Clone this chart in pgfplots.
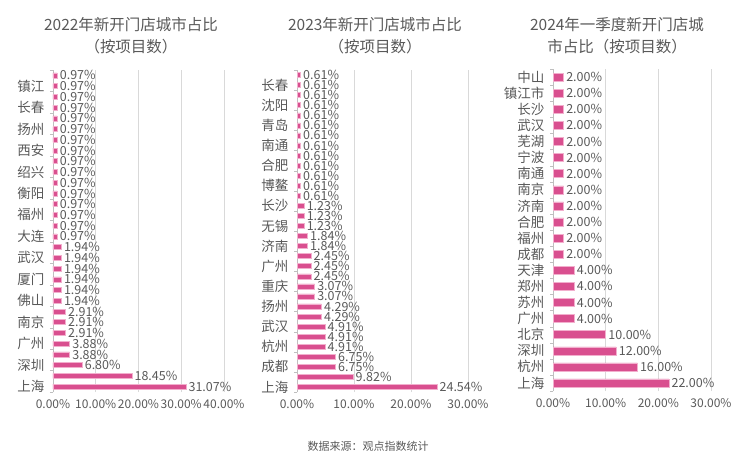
\documentclass[border=0pt]{standalone}
\usepackage{fontspec}
\setmainfont{Noto Sans CJK SC}
\usepackage{pgfplots}
\pgfplotsset{compat=1.18}

\definecolor{barpink}{RGB}{217,79,143}
\definecolor{baredge}{RGB}{242,175,205}
\definecolor{txt}{RGB}{89,89,89}
\definecolor{gridc}{RGB}{217,217,217}
\definecolor{axisc}{RGB}{191,191,191}

\pgfplotsset{
  citybar/.style={
    xbar, bar shift=0pt, scale only axis, anchor=south west,
    xmin=0, clip=false,
    axis x line=bottom, axis y line=left, axis line style={-},
    x axis line style={draw=none},
    y axis line style={draw=axisc, line width=0.8pt},
    xmajorgrids, grid style={gridc, line width=0.8pt},
    major tick length=0pt, minor tick length=3pt, tick align=outside,
    minor tick style={axisc},
    xticklabel={\pgfmathprintnumber[fixed,fixed zerofill,precision=2,assume math mode=true]{\tick}\%},
    x tick label style={font=\fontsize{12}{13}\selectfont, text=txt, yshift=-4pt},
    y tick label style={font=\fontsize{13.5}{14}\selectfont, text=txt, xshift=-5pt},
    point meta=x,
    nodes near coords={\pgfmathprintnumber[fixed,fixed zerofill,precision=2,assume math mode=true]{\pgfplotspointmeta}\%},
    every node near coord/.append style={font=\fontsize{12.5}{13}\selectfont, text=txt, anchor=west, inner sep=2.5pt},
  },
  pinkbar/.style={fill=barpink, draw=baredge, line width=0.5pt},
}

\begin{document}
\begin{tikzpicture}[x=1pt,y=1pt]
\path[use as bounding box] (0,0) rectangle (740,456);

% 2022
\begin{axis}[citybar, at={(53pt,64pt)}, width=171pt, height=322pt,
  xmax=40, xtick={0,10,20,30,40},
  ymin=0.5, ymax=30.5,
  ytick={1,3,...,29},
  yticklabels={上海,深圳,广州,南京,佛山,厦门,武汉,大连,福州,衡阳,绍兴,西安,扬州,长春,镇江},
  minor ytick={0.5,2.5,...,30.5},
  bar width=5pt]
\addplot[pinkbar] coordinates {
  (31.07,1)(18.45,2)(6.80,3)(3.88,4)(3.88,5)(2.91,6)(2.91,7)(2.91,8)
  (1.94,9)(1.94,10)(1.94,11)(1.94,12)(1.94,13)(1.94,14)
  (0.97,15)(0.97,16)(0.97,17)(0.97,18)(0.97,19)(0.97,20)(0.97,21)(0.97,22)
  (0.97,23)(0.97,24)(0.97,25)(0.97,26)(0.97,27)(0.97,28)(0.97,29)(0.97,30)
};
\end{axis}

% 2023
\begin{axis}[citybar, at={(297pt,64pt)}, width=171pt, height=322pt,
  xmax=30, xtick={0,10,20,30},
  ymin=0.5, ymax=32.5,
  ytick={1,3,...,31},
  yticklabels={上海,成都,杭州,武汉,扬州,重庆,广州,济南,无锡,长沙,博鳌,合肥,南通,青岛,沈阳,长春},
  minor ytick={0.5,2.5,...,32.5},
  bar width=5pt]
\addplot[pinkbar] coordinates {
  (24.54,1)(9.82,2)(6.75,3)(6.75,4)(4.91,5)(4.91,6)(4.91,7)(4.29,8)(4.29,9)
  (3.07,10)(3.07,11)(2.45,12)(2.45,13)(2.45,14)(1.84,15)(1.84,16)
  (1.23,17)(1.23,18)(1.23,19)
  (0.61,20)(0.61,21)(0.61,22)(0.61,23)(0.61,24)(0.61,25)(0.61,26)
  (0.61,27)(0.61,28)(0.61,29)(0.61,30)(0.61,31)(0.61,32)
};
\end{axis}

% 2024 Q1
\begin{axis}[citybar, at={(553pt,65pt)}, width=158pt, height=322pt,
  xmax=30, xtick={0,10,20,30},
  ymin=0.5, ymax=20.5,
  ytick={1,...,20},
  yticklabels={上海,杭州,深圳,北京,广州,苏州,郑州,天津,成都,福州,合肥,济南,南京,南通,宁波,芜湖,武汉,长沙,镇江市,中山},
  minor ytick={0.5,1.5,...,20.5},
  bar width=8pt]
\addplot[pinkbar] coordinates {
  (22,1)(16,2)(12,3)(10,4)(4,5)(4,6)(4,7)(4,8)
  (2,9)(2,10)(2,11)(2,12)(2,13)(2,14)(2,15)(2,16)(2,17)(2,18)(2,19)(2,20)
};
\end{axis}

\node[align=center, text=txt, font=\fontsize{15.5}{22}\selectfont] at (131,420) {2022年新开门店城市占比\\（按项目数）};
\node[align=center, text=txt, font=\fontsize{15.5}{22}\selectfont] at (375,420) {2023年新开门店城市占比\\（按项目数）};
\node[align=center, text=txt, font=\fontsize{15.5}{22}\selectfont] at (617,420) {2024年一季度新开门店城\\市占比（按项目数）};
\node[text=txt, font=\fontsize{11}{12}\selectfont] at (368,10) {数据来源：观点指数统计};
\end{tikzpicture}
\end{document}
